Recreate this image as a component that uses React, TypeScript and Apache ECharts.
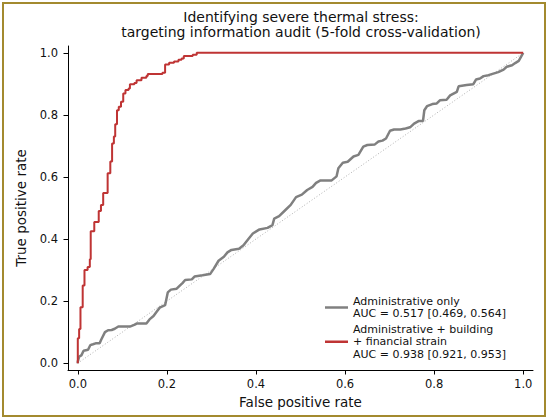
import React, { useEffect, useRef } from "react";
import * as echarts from "echarts";

const titleLines = [
  "Identifying severe thermal stress:",
  "targeting information audit (5-fold cross-validation)",
];
const xAxisName = "False positive rate";
const yAxisName = "True positive rate";
const tickValues = [0, 0.2, 0.4, 0.6, 0.8, 1.0];

const seriesNames = ["Administrative only", "Administrative + building + financial strain"];
const legendLabels = [
  "Administrative only\nAUC = 0.517 [0.469, 0.564]",
  "Administrative + building\n+ financial strain\nAUC = 0.938 [0.921, 0.953]",
];

const chanceFpr = [0, 1];
const chanceTpr = [0, 1];

const adminFpr = [
  0, 0, 0.003, 0.008, 0.013, 0.023, 0.028, 0.034, 0.04, 0.049, 0.053, 0.061, 0.068, 0.076, 0.083,
  0.091, 0.117, 0.128, 0.133, 0.154, 0.161, 0.17, 0.177, 0.184, 0.196, 0.202, 0.209, 0.222, 0.229,
  0.235, 0.241, 0.256, 0.262, 0.28, 0.297, 0.305, 0.316, 0.328, 0.336, 0.345, 0.362, 0.372, 0.383,
  0.393, 0.408, 0.426, 0.437, 0.441, 0.452, 0.465, 0.478, 0.49, 0.503, 0.515, 0.527, 0.535, 0.545,
  0.57, 0.581, 0.585, 0.595, 0.606, 0.619, 0.63, 0.641, 0.65, 0.667, 0.675, 0.684, 0.692, 0.701,
  0.71, 0.724, 0.736, 0.746, 0.755, 0.765, 0.775, 0.778, 0.784, 0.796, 0.806, 0.813, 0.828, 0.836,
  0.851, 0.855, 0.873, 0.888, 0.894, 0.903, 0.911, 0.922, 0.933, 0.944, 0.956, 0.963, 0.975, 0.982,
  0.99, 0.995, 1,
];
const adminTpr = [
  0, 0.005, 0.021, 0.025, 0.04, 0.043, 0.058, 0.061, 0.064, 0.064, 0.077, 0.1, 0.106, 0.107, 0.111,
  0.118, 0.118, 0.124, 0.128, 0.128, 0.141, 0.152, 0.166, 0.179, 0.187, 0.228, 0.237, 0.24, 0.25,
  0.258, 0.268, 0.27, 0.279, 0.283, 0.287, 0.304, 0.33, 0.343, 0.357, 0.365, 0.369, 0.38, 0.4,
  0.418, 0.431, 0.436, 0.445, 0.466, 0.474, 0.492, 0.51, 0.535, 0.543, 0.558, 0.568, 0.581, 0.589,
  0.589, 0.602, 0.628, 0.646, 0.649, 0.666, 0.671, 0.698, 0.703, 0.705, 0.714, 0.717, 0.724, 0.749,
  0.753, 0.753, 0.756, 0.76, 0.772, 0.78, 0.78, 0.815, 0.828, 0.835, 0.837, 0.847, 0.849, 0.863,
  0.874, 0.892, 0.896, 0.899, 0.914, 0.917, 0.925, 0.928, 0.933, 0.938, 0.946, 0.955, 0.96, 0.967,
  0.974, 0.987, 1,
];

const fullFpr = [
  0, 0, 0.003, 0.003, 0.006, 0.006, 0.011, 0.011, 0.015, 0.015, 0.022, 0.022, 0.027, 0.027, 0.029,
  0.029, 0.037, 0.037, 0.047, 0.047, 0.052, 0.052, 0.057, 0.057, 0.067, 0.067, 0.073, 0.073, 0.077,
  0.077, 0.081, 0.081, 0.084, 0.084, 0.088, 0.088, 0.092, 0.092, 0.097, 0.097, 0.102, 0.102, 0.107,
  0.107, 0.114, 0.114, 0.117, 0.117, 0.127, 0.127, 0.132, 0.132, 0.143, 0.143, 0.154, 0.154, 0.157,
  0.157, 0.19, 0.19, 0.196, 0.196, 0.205, 0.205, 0.216, 0.216, 0.226, 0.226, 0.233, 0.233, 0.238,
  0.238, 0.258, 0.258, 0.267, 0.267, 1,
];
const fullTpr = [
  0, 0.08, 0.08, 0.11, 0.11, 0.18, 0.18, 0.25, 0.25, 0.3, 0.3, 0.31, 0.31, 0.335, 0.335, 0.425,
  0.425, 0.455, 0.455, 0.49, 0.49, 0.51, 0.51, 0.548, 0.548, 0.612, 0.612, 0.65, 0.65, 0.708, 0.708,
  0.73, 0.73, 0.77, 0.77, 0.815, 0.815, 0.826, 0.826, 0.842, 0.842, 0.869, 0.869, 0.88, 0.88, 0.885,
  0.885, 0.899, 0.899, 0.903, 0.903, 0.912, 0.912, 0.92, 0.92, 0.925, 0.925, 0.932, 0.932, 0.936,
  0.936, 0.962, 0.962, 0.968, 0.968, 0.972, 0.972, 0.978, 0.978, 0.982, 0.982, 0.99, 0.99, 0.994,
  0.994, 1.0, 1.0,
];

const zip = (xs: number[], ys: number[]) => xs.map((x, i) => [x, ys[i]]);

const FONT = "DejaVu Sans";

export default function App() {
  const ref = useRef<HTMLDivElement>(null);
  useEffect(() => {
    if (!ref.current) return;
    const chart = echarts.init(ref.current, null, { renderer: "svg" });
    const axisCommon = {
      type: "value" as const,
      min: -0.022,
      max: 1.022,
      splitLine: { show: false },
      axisLine: { show: true, onZero: false, lineStyle: { color: "#000", width: 1 } },
      axisTick: { show: true, customValues: tickValues, length: 4.5, lineStyle: { color: "#000", width: 1 } },
      nameLocation: "middle" as const,
      nameTextStyle: { fontFamily: FONT, fontSize: 13.5, color: "#111" },
    };
    const axisLabelCommon = {
      customValues: tickValues,
      formatter: (v: number) => v.toFixed(1),
      fontFamily: FONT,
      fontSize: 11.5,
      color: "#111",
    };
    chart.setOption({
      animation: false,
      backgroundColor: "#fff",
      title: {
        text: titleLines.join("\n"),
        left: 301,
        textAlign: "center",
        top: 9,
        padding: 0,
        textStyle: { fontFamily: FONT, fontSize: 14, fontWeight: "normal", color: "#111", lineHeight: 15.5 },
      },
      grid: { left: 68, right: 17, top: 46, bottom: 50, containLabel: false },
      xAxis: {
        ...axisCommon,
        name: xAxisName,
        nameGap: 21.5,
        axisLabel: { ...axisLabelCommon, margin: 8 },
      },
      yAxis: {
        ...axisCommon,
        name: yAxisName,
        nameGap: 40.5,
        axisLabel: { ...axisLabelCommon, margin: 10 },
      },
      legend: {
        data: seriesNames,
        orient: "vertical",
        left: 325,
        top: 295,
        padding: 0,
        itemGap: 3,
        itemWidth: 23,
        itemHeight: 2.5,
        icon: "rect",
        formatter: (name: string) => legendLabels[seriesNames.indexOf(name)],
        textStyle: { fontFamily: FONT, fontSize: 11, lineHeight: 12.5, color: "#111" },
      },
      graphic: [
        {
          type: "rect",
          shape: { x: 3, y: 3, width: 542, height: 413 },
          style: { fill: "none", stroke: "#a38a2f", lineWidth: 2 },
          silent: true,
        },
      ],
      series: [
        {
          name: "chance",
          type: "line",
          data: zip(chanceFpr, chanceTpr),
          symbol: "none",
          lineStyle: { color: "#b0b0b0", width: 1, type: [1, 2] },
          silent: true,
          z: 1,
        },
        {
          name: seriesNames[0],
          type: "line",
          data: zip(adminFpr, adminTpr),
          symbol: "none",
          itemStyle: { color: "#808080" },
          lineStyle: { color: "#808080", width: 2.5 },
          z: 2,
        },
        {
          name: seriesNames[1],
          type: "line",
          data: zip(fullFpr, fullTpr),
          symbol: "none",
          itemStyle: { color: "#bf3434" },
          lineStyle: { color: "#bf3434", width: 2 },
          z: 3,
        },
      ],
    });
    return () => chart.dispose();
  }, []);
  return (
    <div
      ref={ref}
      style={{ position: "fixed", left: 0, top: 0, width: 550, height: 420, background: "#fff" }}
    />
  );
}
